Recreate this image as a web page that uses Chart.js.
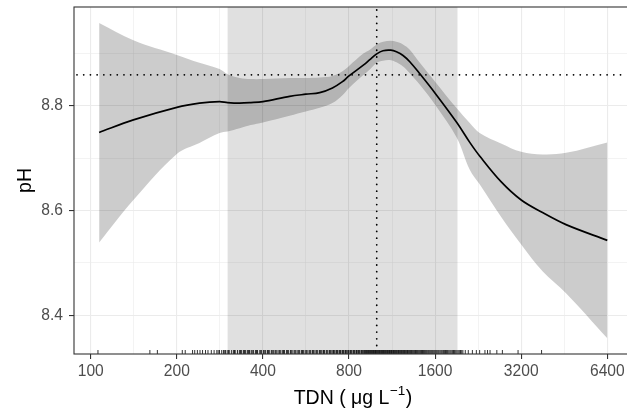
<!DOCTYPE html>
<html>
<head>
<meta charset="utf-8">
<script src="https://cdn.jsdelivr.net/npm/chart.js@4/dist/chart.umd.min.js"></script>
<style>
html, body { margin: 0; padding: 0; background: #fff; }
</style>
</head>
<body>
<canvas id="moncanvas" width="627" height="416"></canvas>
<script>
// courbe lissee pH ~ TDN (lecture sur la figure)
const tdn = [107, 141, 200, 240, 282, 301, 332, 363, 400, 496, 565, 632, 700, 759, 800, 900, 946, 1000, 1052, 1120, 1172, 1236, 1305, 1415, 1600, 1905, 2115, 2290, 2720, 3200, 3800, 4590, 6400];
const ph = [8.749, 8.773, 8.797, 8.805, 8.808, 8.806, 8.805, 8.806, 8.808, 8.818, 8.822, 8.825, 8.834, 8.846, 8.857, 8.878, 8.888, 8.899, 8.905, 8.906, 8.903, 8.896, 8.884, 8.861, 8.824, 8.768, 8.730, 8.704, 8.655, 8.620, 8.596, 8.573, 8.543];
const phHaut = [8.958, 8.925, 8.897, 8.882, 8.870, 8.860, 8.853, 8.851, 8.851, 8.853, 8.853, 8.854, 8.857, 8.866, 8.876, 8.900, 8.907, 8.917, 8.922, 8.924, 8.922, 8.917, 8.907, 8.882, 8.846, 8.795, 8.767, 8.748, 8.728, 8.712, 8.707, 8.710, 8.730];
const phBas = [8.539, 8.620, 8.708, 8.729, 8.748, 8.751, 8.757, 8.763, 8.768, 8.781, 8.789, 8.796, 8.805, 8.820, 8.834, 8.859, 8.869, 8.882, 8.886, 8.887, 8.883, 8.875, 8.862, 8.840, 8.802, 8.739, 8.678, 8.650, 8.588, 8.535, 8.484, 8.442, 8.356];

// observations (rug)
const rug = [106, 161, 171, 209, 214, 227, 231, 236, 241, 246, 252, 257, 264, 270, 276, 279, 282, 287, 291, 293, 296, 300, 303, 305, 311, 316, 318, 320, 326, 331, 334, 337, 342, 345, 348, 353, 356, 359, 364, 367, 371, 377, 380, 383, 390, 393, 396, 402, 406, 409, 415, 418, 421, 428, 431, 435, 441, 444, 448, 455, 458, 462, 469, 472, 476, 484, 487, 491, 499, 502, 506, 514, 518, 522, 530, 534, 538, 546, 550, 554, 562, 567, 571, 580, 584, 588, 596, 600, 604, 613, 617, 622, 631, 635, 640, 649, 652, 657, 666, 670, 675, 684, 688, 693, 702, 706, 711, 720, 724, 729, 738, 742, 747, 756, 760, 765, 774, 778, 783, 792, 796, 801, 810, 814, 819, 828, 832, 837, 846, 850, 855, 864, 868, 873, 882, 886, 891, 900, 905, 910, 915, 920, 925, 930, 935, 940, 945, 950, 955, 960, 965, 970, 975, 980, 985, 990, 995, 1000, 1005, 1011, 1016, 1022, 1027, 1033, 1038, 1044, 1049, 1055, 1060, 1066, 1072, 1078, 1084, 1090, 1096, 1102, 1108, 1114, 1120, 1126, 1132, 1139, 1145, 1152, 1158, 1165, 1171, 1178, 1185, 1192, 1199, 1206, 1213, 1220, 1228, 1235, 1242, 1250, 1258, 1265, 1273, 1281, 1289, 1297, 1305, 1314, 1322, 1331, 1340, 1349, 1358, 1367, 1376, 1386, 1395, 1405, 1415, 1425, 1435, 1446, 1456, 1467, 1478, 1489, 1500, 1512, 1523, 1535, 1547, 1559, 1571, 1584, 1597, 1610, 1623, 1637, 1650, 1665, 1680, 1694, 1710, 1724, 1740, 1755, 1770, 1787, 1804, 1820, 1838, 1855, 1872, 1890, 1908, 1926, 1944, 1963, 1982, 2001, 2040, 2090, 2160, 2230, 2290, 2390, 2440, 2490, 2630, 2750, 3120, 3770];

const xTicks = [100, 200, 400, 800, 1600, 3200, 6400];
const yTicks = [8.4, 8.6, 8.8];
const seuilPH = 8.859;
const seuilTDN = 1000;
const zone = [301, 1916];

const police = 'Liberation Sans, Arial, Helvetica, sans-serif';

const xMinor = xTicks.slice(0, -1).map(v => v * Math.SQRT2);
const yMinor = [8.5, 8.7, 8.9];

function grille(majeurs, mineurs) {
    return majeurs.map(v => ({ value: v, minor: false }))
        .concat(mineurs.map(v => ({ value: v, minor: true })))
        .sort((a, b) => a.value - b.value);
}

const grid = {
    color: (c) => '#ebebeb',
    lineWidth: (c) => (c.tick && c.tick.minor) ? 0.6 : 1.1,
    tickColor: (c) => (c.tick && c.tick.minor) ? 'rgba(0,0,0,0)' : '#333333',
    tickWidth: 1.1,
    tickLength: 5,
    drawTicks: true
};

const decor = {
    id: 'decor',
    beforeDatasetsDraw(chart) {
        const ctx = chart.ctx, a = chart.chartArea, x = chart.scales.x;
        ctx.save();
        ctx.fillStyle = 'rgba(0,0,0,0.12)';
        const x0 = x.getPixelForValue(zone[0]), x1 = x.getPixelForValue(zone[1]);
        ctx.fillRect(x0, a.top, x1 - x0, a.bottom - a.top);
        ctx.restore();
    },
    afterDatasetsDraw(chart) {
        const ctx = chart.ctx, a = chart.chartArea, x = chart.scales.x, y = chart.scales.y;
        ctx.save();
        // rug
        ctx.strokeStyle = 'rgba(0,0,0,0.8)';
        ctx.lineWidth = 1;
        for (const v of rug) {
            const px = x.getPixelForValue(v);
            ctx.beginPath();
            ctx.moveTo(px, a.bottom - 4);
            ctx.lineTo(px, a.bottom);
            ctx.stroke();
        }
        // lignes pointillees
        ctx.strokeStyle = '#000';
        ctx.lineWidth = 1.8;
        ctx.lineCap = 'round';
        ctx.setLineDash([0.01, 6.7]);
        const py = y.getPixelForValue(seuilPH);
        ctx.beginPath();
        ctx.moveTo(a.left + 3, py);
        ctx.lineTo(a.right, py);
        ctx.stroke();
        const px = x.getPixelForValue(seuilTDN);
        ctx.beginPath();
        ctx.moveTo(px, a.top + 3);
        ctx.lineTo(px, a.bottom - 6);
        ctx.stroke();
        ctx.setLineDash([]);
        // cadre
        ctx.strokeStyle = '#333333';
        ctx.lineWidth = 1.1;
        ctx.strokeRect(a.left, a.top, a.right - a.left + 20, a.bottom - a.top);
        ctx.restore();
    },
    afterDraw(chart) {
        const ctx = chart.ctx, a = chart.chartArea;
        ctx.save();
        ctx.fillStyle = '#000';
        ctx.textBaseline = 'alphabetic';
        // titre x : TDN ( µg L^-1 )
        const f1 = '19.5px ' + police, f2 = '13.5px ' + police;
        ctx.font = f1;
        const t1 = 'TDN ( \u03bcg L', t3 = ')';
        const w1 = ctx.measureText(t1).width, w3 = ctx.measureText(t3).width;
        ctx.font = f2;
        const t2 = '\u22121';
        const w2 = ctx.measureText(t2).width;
        let x0 = 353 - (w1 + w2 + w3 + 1) / 2;
        ctx.font = f1;
        ctx.textAlign = 'left';
        ctx.fillText(t1, x0, 404);
        ctx.font = f2;
        ctx.fillText(t2, x0 + w1 + 0.5, 395);
        ctx.font = f1;
        ctx.fillText(t3, x0 + w1 + w2 + 1, 404);
        // titre y
        ctx.translate(31, (a.top + a.bottom) / 2);
        ctx.rotate(-Math.PI / 2);
        ctx.textAlign = 'center';
        ctx.fillText('pH', 0, 0);
        ctx.restore();
    }
};

const serie = (vals) => tdn.map((t, i) => ({ x: t, y: vals[i] }));

const config = {
    type: 'line',
    data: {
        datasets: [
            {
                label: 'pH',
                data: serie(ph),
                borderColor: '#000000',
                borderWidth: 1.7,
                pointRadius: 0,
                fill: false,
                tension: 0.35
            },
            {
                label: 'haut',
                data: serie(phHaut),
                borderWidth: 0,
                borderColor: 'rgba(0,0,0,0)',
                backgroundColor: 'rgba(0,0,0,0.2)',
                pointRadius: 0,
                fill: '+1',
                tension: 0.35
            },
            {
                label: 'bas',
                data: serie(phBas),
                borderWidth: 0,
                borderColor: 'rgba(0,0,0,0)',
                pointRadius: 0,
                fill: false,
                tension: 0.35
            }
        ]
    },
    options: {
        responsive: false,
        animation: false,
        devicePixelRatio: 1,
        layout: { padding: { top: 7, left: 0, right: 0, bottom: 0 } },
        plugins: { legend: { display: false }, tooltip: { enabled: false } },
        scales: {
            x: {
                type: 'logarithmic',
                min: 87.4,
                max: 7500,
                afterBuildTicks: (s) => { s.ticks = grille(xTicks, xMinor); },
                afterFit: (s) => { s.height = 62; s.paddingLeft = 0; s.paddingRight = 0; },
                grid: grid,
                border: { display: false },
                ticks: {
                    autoSkip: false,
                    maxRotation: 0,
                    padding: 3,
                    color: '#4d4d4d',
                    font: { family: police, size: 15.6 },
                    callback: function (v, i, t) { return t[i].minor ? '' : String(v); }
                }
            },
            y: {
                type: 'linear',
                min: 8.326,
                max: 8.9885,
                afterBuildTicks: (s) => { s.ticks = grille(yTicks, yMinor); },
                afterFit: (s) => { s.width = 74; s.paddingTop = 0; s.paddingBottom = 0; },
                grid: grid,
                border: { display: false },
                ticks: {
                    autoSkip: false,
                    padding: 6,
                    color: '#4d4d4d',
                    font: { family: police, size: 15.6 },
                    callback: function (v, i, t) { return t[i].minor ? '' : v.toFixed(1); }
                }
            }
        }
    },
    plugins: [decor]
};

const myChart = new Chart(document.querySelector('#moncanvas'), config);
</script>
</body>
</html>
